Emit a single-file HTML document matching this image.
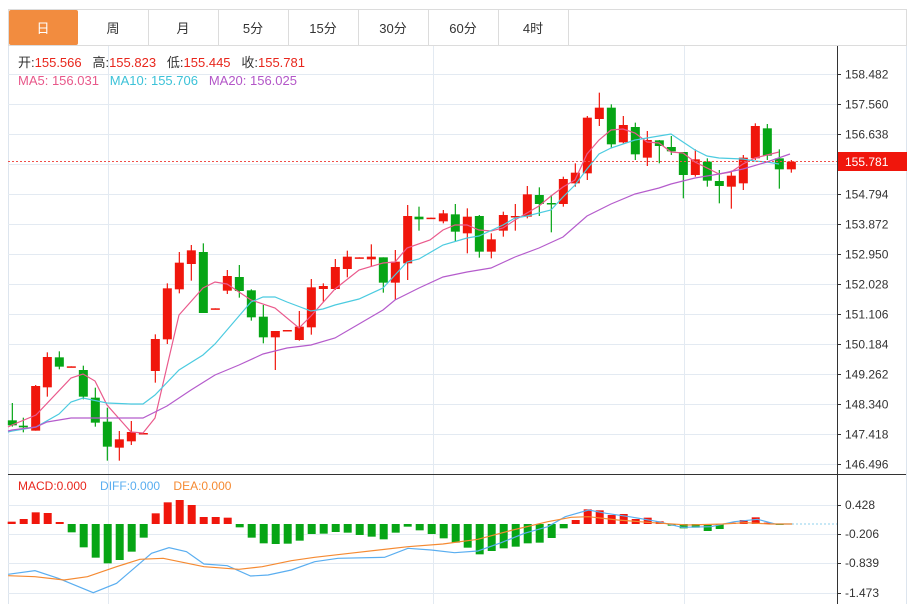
<!DOCTYPE html>
<html><head><meta charset="utf-8"><style>
body{margin:0;background:#fff;font-family:"Liberation Sans","Noto Sans CJK SC",sans-serif}
svg{display:block}
</style></head><body>
<svg id="s" width="911" height="604" xmlns="http://www.w3.org/2000/svg" font-family="Liberation Sans, Noto Sans CJK SC, sans-serif">
<rect width="911" height="604" fill="#fff"/>
<rect x="8.5" y="9.5" width="898" height="36" fill="#fff" stroke="#dcdcdc"/>
<rect x="9" y="10" width="69" height="35" fill="#f28c3f" rx="2"/>
<g stroke="#dcdcdc"><line x1="148.5" y1="10" x2="148.5" y2="45"/><line x1="218.5" y1="10" x2="218.5" y2="45"/><line x1="288.5" y1="10" x2="288.5" y2="45"/><line x1="358.5" y1="10" x2="358.5" y2="45"/><line x1="428.5" y1="10" x2="428.5" y2="45"/><line x1="498.5" y1="10" x2="498.5" y2="45"/><line x1="568.5" y1="10" x2="568.5" y2="45"/></g>
<g font-size="13" text-anchor="middle" fill="#333"><text x="43" y="33" fill="#fff">日</text><text x="113" y="33">周</text><text x="183" y="33">月</text><text x="253" y="33">5分</text><text x="323" y="33">15分</text><text x="393" y="33">30分</text><text x="463" y="33">60分</text><text x="533" y="33">4时</text></g>
<g id="grid"></g>
<g id="plot"></g>
<g font-size="13">
<text x="18" y="67" fill="#333" xml:space="preserve">开:<tspan fill="#e8261c">155.566</tspan>   高:<tspan fill="#e8261c">155.823</tspan>   低:<tspan fill="#e8261c">155.445</tspan>   收:<tspan fill="#e8261c">155.781</tspan></text>
<text x="18" y="85" fill="#e8588a" xml:space="preserve">MA5: 156.031   <tspan fill="#3cc2d8">MA10: 155.706</tspan>   <tspan fill="#b356c8">MA20: 156.025</tspan></text>
<text x="18" y="490" font-size="12" fill="#e8261c" xml:space="preserve">MACD:0.000    <tspan fill="#5aaef0">DIFF:0.000</tspan>    <tspan fill="#f58a32">DEA:0.000</tspan></text>
</g>
</svg>
<script>
const NS="http://www.w3.org/2000/svg";
const G=document.getElementById('grid'),P=document.getElementById('plot');
function el(p,t,a){const e=document.createElementNS(NS,t);for(const k in a)e.setAttribute(k,a[k]);p.appendChild(e);return e;}
el(G,'line',{x1:8.5,y1:46,x2:8.5,y2:604,stroke:'#dde5ee'});
el(G,'line',{x1:906.5,y1:46,x2:906.5,y2:604,stroke:'#dde5ee'});
const labs=['158.482','157.560','156.638','155.716','154.794','153.872','152.950','152.028','151.106','150.184','149.262','148.340','147.418','146.496'];
labs.forEach((l,i)=>{const y=74+i*30+.5;el(G,'line',{x1:8,y1:y,x2:837,y2:y,stroke:'#e3eaf2'});el(G,'line',{x1:837,y1:y,x2:841,y2:y,stroke:'#333'});
 if(i!=3){const t=el(G,'text',{x:845,y:y+4,'font-size':12,fill:'#333'});t.textContent=l;}});
[108,433,684].forEach(x=>el(G,'line',{x1:x+.5,y1:46,x2:x+.5,y2:604,stroke:'#e3eaf2'}));
el(G,'line',{x1:837.5,y1:46,x2:837.5,y2:604,stroke:'#333'});
el(G,'line',{x1:8,y1:474.5,x2:906,y2:474.5,stroke:'#333'});
[['0.428',505],['-0.206',534],['-0.839',563],['-1.473',593]].forEach(([l,y])=>{el(G,'line',{x1:8,y1:y+.5,x2:837,y2:y+.5,stroke:'#e3eaf2'});el(G,'line',{x1:837,y1:y+.5,x2:841,y2:y+.5,stroke:'#333'});const t=el(G,'text',{x:845,y:y+4,'font-size':12,fill:'#333'});t.textContent=l;});
const R='#f0160c',Gr='#06a515';
const c2=[[37,571,586,519,590,'g'],[70,587,592,563,607,'g'],[107,468,602,465,602,'r'],[142,381,472,367,500,'r'],[178,382,410,364,418,'g'],[214,409,410,409,410,'r'],[250,420,500,407,508,'g'],[286,503,578,473,590,'g'],[322,575,650,533,692,'g'],[358,628,653,603,692,'r'],[394,606,634,573,645,'r'],[430,609,611,609,611,'r'],[466,327,423,313,458,'r'],[502,175,328,160,342,'r'],[538,98,178,66,190,'r'],[574,61,102,45,152,'r'],[610,66,249,40,249,'g'],[646,235,236,235,236,'r'],[682,138,182,120,192,'r'],[718,141,183,105,203,'g'],[754,181,262,178,272,'g'],[790,260,322,225,340,'g'],[826,303,322,303,420,'r'],[862,300,302,300,302,'r'],[898,290,330,243,332,'r'],[934,172,292,147,314,'r'],[970,168,177,160,215,'r'],[1006,111,177,87,180,'r'],[1042,80,117,62,142,'r'],[1078,82,84,82,84,'r'],[1114,80,88,43,110,'r'],[1150,82,158,82,188,'g'],[1186,95,158,60,210,'r']];
const c3=[[23,408,550,375,600,'r'],[57,410,418,380,452,'g'],[93,413,414,413,414,'r'],[130,400,424,390,430,'r'],[166,403,455,372,485,'g'],[202,410,460,385,520,'r'],[238,408,515,405,533,'g'],[274,478,515,460,535,'r'],[310,405,452,395,470,'r'],[346,408,410,372,452,'r'],[382,343,410,318,415,'r'],[418,345,372,322,408,'g'],[454,369,373,345,457,'g'],[490,297,372,290,380,'r'],[526,278,310,250,320,'r'],[562,113,280,108,300,'r'],[598,83,117,38,138,'r'],[634,83,193,73,205,'g'],[670,135,187,108,190,'r'],[706,141,223,128,240,'g'],[742,180,233,153,258,'r'],[778,181,198,180,250,'g'],[814,201,214,168,225,'g'],[850,216,285,216,355,'g'],[886,238,285,208,290,'r'],[922,245,302,235,320,'g'],[958,303,318,270,370,'g'],[994,287,320,272,386,'r'],[1030,233,310,225,330,'r'],[1066,138,235,130,240,'r'],[1102,145,227,132,240,'g'],[1138,235,268,208,326,'g'],[1174,245,268,240,278,'r']];
function candle(x,t,b,wt,wb,c){const col=c=='r'?R:Gr;el(P,'line',{x1:x,y1:wt,x2:x,y2:wb,stroke:col,'stroke-width':1.2});el(P,'rect',{x:x-4.5,y:t,width:9,height:Math.max(1.5,b-t),fill:col});}
c2.forEach(a=>candle(a[0]/3,230+a[1]/3,230+a[2]/3,230+a[3]/3,230+a[4]/3,a[5]));
c3.forEach(a=>candle(400+a[0]/3,80+a[1]/3,80+a[2]/3,80+a[3]/3,80+a[4]/3,a[5]));
function line(pts,col,w){el(P,'polyline',{points:pts.map(p=>p.join(',')).join(' '),fill:'none',stroke:col,'stroke-width':w||1.2});}
line([[8,427],[12,425],[36,415],[71,378],[83,374],[95,381],[107,405],[131,432],[143,433],[155,418],[179,315],[203,288],[215,282],[227,284],[251,300],[275,308],[299,328],[311,316],[335,289],[359,270],[383,263],[395,262],[407,248],[430,240],[443,230],[455,225],[467,225],[479,230],[491,231],[503,228],[515,220],[527,213],[539,206],[551,196],[563,187],[575,180],[587,154],[599,140],[611,130],[623,129],[635,133],[647,142],[659,143],[671,152],[683,153],[695,162],[707,168],[719,174],[731,172],[743,164],[755,158],[767,155],[779,152]],'#ea5a8c');
line([[8,432],[12,431],[36,427],[59,414],[71,402],[83,398],[107,403],[131,404],[143,404],[155,395],[179,370],[203,355],[215,344],[239,316],[251,302],[263,297],[275,297],[287,302],[311,311],[323,309],[335,305],[359,299],[383,288],[407,262],[419,259],[443,245],[467,238],[479,236],[503,225],[515,218],[527,216],[551,210],[563,197],[575,185],[587,169],[599,154],[611,148],[635,140],[659,136],[671,134],[683,142],[695,150],[707,156],[719,158],[743,159],[755,161],[767,162],[779,164]],'#4ccbe0');
line([[8,431],[12,430],[36,427],[47,422],[71,418],[143,418],[167,406],[191,390],[215,375],[239,365],[263,354],[287,348],[311,345],[335,338],[359,324],[383,310],[395,300],[419,288],[443,277],[467,272],[491,268],[515,257],[539,248],[563,237],[587,216],[611,204],[635,194],[659,188],[671,184],[695,178],[719,174],[743,169],[767,162],[790,154]],'#b55ccc');
el(P,'line',{x1:8,y1:161.5,x2:837,y2:161.5,stroke:'#f0504a','stroke-dasharray':'2,2'});
el(P,'rect',{x:838,y:152,width:69,height:19,fill:'#f0160c'});
const t=el(P,'text',{x:845,y:166,'font-size':12,fill:'#fff'});t.textContent='155.781';
const bars=[155,147,127,129,156,187,232,263,280,270,245,203,130,97,90,105,141,141,143,172,203,220,222,221,212,192,191,186,188,195,200,208,188,170,181,192,205,218,233,253,243,235,230,220,218,204,175,150,118,121,135,132,147,143,154,167,175,173,183,177,158,150,142,158,165];
const z=470+162/3;
bars.forEach((v,i)=>{const x=11.7+i*12;const y=470+v/3;const up=y<z;el(P,'rect',{x:x-4,y:Math.min(y,z),width:8,height:Math.max(1,Math.abs(y-z)),fill:up?R:Gr});});
function mline(pts,col){line(pts.map(p=>[p[0]/1.716,470+p[1]/3]),col,1.2);}
mline([[14,313],[60,302],[100,325],[160,368],[200,340],[260,250],[290,233],[320,245],[350,282],[390,287],[430,318],[460,315],[500,300],[540,275],[580,265],[660,262],[700,235],[740,240],[780,248],[820,243],[860,218],[900,190],[940,170],[970,140],[1010,120],[1040,130],[1080,140],[1130,155],[1170,172],[1220,170],[1260,155],[1300,148],[1330,162],[1360,162]],'#5aaef0');
mline([[14,317],[60,320],[110,330],[150,320],[200,290],[240,268],[280,265],[350,290],[410,298],[450,290],[500,272],[540,262],[600,250],[700,230],[760,222],[820,208],[880,180],[940,155],[980,142],[1010,140],[1060,150],[1120,158],[1180,165],[1240,162],[1280,158],[1320,162],[1360,162]],'#f58a32');
el(P,'line',{x1:792,y1:z,x2:837,y2:z,stroke:'#8fd0ee','stroke-dasharray':'2,2'});
</script>
</body></html>
